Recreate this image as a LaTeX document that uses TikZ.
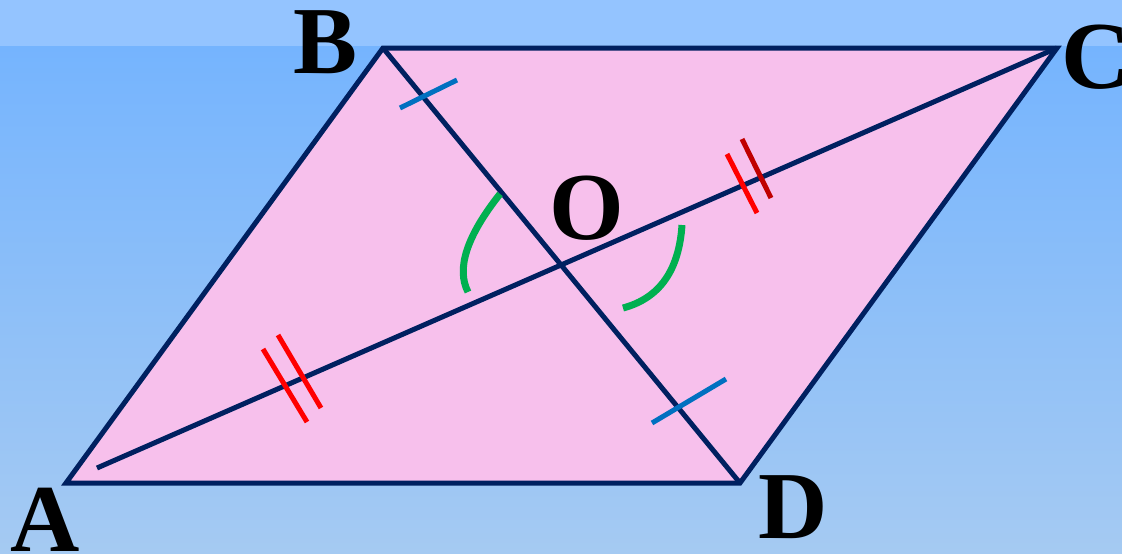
\documentclass[tikz,border=0pt]{standalone}
\usepackage{fontspec}
\setmainfont{Liberation Serif}
\definecolor{bandblue}{RGB}{148,196,255}
\definecolor{topblue}{RGB}{117,180,254}
\definecolor{botblue}{RGB}{165,202,242}
\definecolor{pinkfill}{RGB}{247,192,236}
\definecolor{navy}{RGB}{0,32,96}
\definecolor{tickblue}{RGB}{0,112,192}
\definecolor{darkred}{RGB}{192,0,0}
\definecolor{arcgreen}{RGB}{0,176,80}
\tikzset{
  edge/.style={draw=navy,line width=5pt,line join=miter},
  diag/.style={draw=navy,line width=5pt},
  bluetick/.style={draw=tickblue,line width=5pt},
  redtick/.style={draw=red,line width=5pt},
  dredtick/.style={draw=darkred,line width=5pt},
  anglearc/.style={draw=arcgreen,line width=7pt},
  lab/.style={inner sep=0pt,font=\fontsize{96}{96}\selectfont\bfseries},
}
\begin{document}
\begin{tikzpicture}[x=1pt,y=-1pt]
\useasboundingbox (0,0) rectangle (1122,554);
% background
\fill[bandblue] (0,0) rectangle (1122,47);
\shade[top color=topblue,bottom color=botblue] (0,46) rectangle (1122,554);
% vertices
\coordinate (A) at (66,483);
\coordinate (B) at (383,48);
\coordinate (C) at (1057,48);
\coordinate (D) at (740,483);
\coordinate (As) at (97,468);
\coordinate (O) at (562,266);
% parallelogram
\fill[pinkfill] (A) -- (B) -- (C) -- (D) -- cycle;
\draw[edge] (A) -- (B) -- (C) -- (D) -- cycle;
% diagonals
\draw[diag] (As) -- (C);
\draw[diag] (B) -- (D);
% blue ticks
\coordinate (b1) at (400,108); \coordinate (b2) at (457,80);
\coordinate (d1) at (652,423); \coordinate (d2) at (726,379);
\draw[bluetick] (b1) -- (b2);
\draw[bluetick] (d1) -- (d2);
% red ticks near A
\coordinate (r1) at (263,349); \coordinate (r2) at (307,422);
\coordinate (r3) at (278,335); \coordinate (r4) at (321,408);
\draw[redtick] (r1) -- (r2);
\draw[redtick] (r3) -- (r4);
% red ticks near C
\coordinate (s1) at (727,154); \coordinate (s2) at (757,213);
\coordinate (s3) at (742,139); \coordinate (s4) at (771,198);
\draw[redtick] (s1) -- (s2);
\draw[dredtick] (s3) -- (s4);
% angle arcs
\coordinate (g1) at (500,194); \coordinate (g2) at (468,292);
\coordinate (h1) at (682,225); \coordinate (h2) at (623,308);
\draw[anglearc] (g1) .. controls (466.7,236) and (456,268.7) .. (g2);
\draw[anglearc] (h1) .. controls (679,270.7) and (659.3,298.3) .. (h2);
% labels
\node[lab] (lA) at (45,520) {A};
\node[lab] (lB) at (326,42) {B};
\node[lab] (lC) at (1096,57) {C};
\node[lab] (lD) at (793,507) {D};
\node[lab] (lO) at (587,208) {O};
\end{tikzpicture}
\end{document}
